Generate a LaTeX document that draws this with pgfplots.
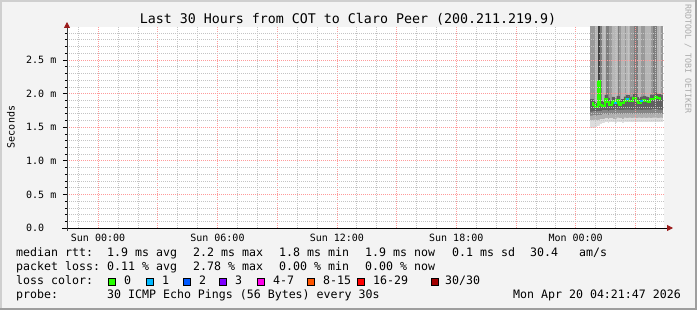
\documentclass[border=0pt]{standalone}
\usepackage{pgfplots}
\pgfplotsset{compat=1.18}
\usepackage{pgfplotstable}
\usepackage{fontspec}
\setmainfont{DejaVu Sans Mono}
\setmonofont{DejaVu Sans Mono}
\usetikzlibrary{arrows.meta}
\definecolor{bgc}{HTML}{F3F3F3}
\definecolor{shadeA}{HTML}{CFCFCF}
\definecolor{shadeB}{HTML}{9E9E9E}
\definecolor{mgrid}{HTML}{FF9A9A}
\definecolor{ggrid}{HTML}{C4C4C4}
\definecolor{arrowc}{HTML}{9A1A1A}
\definecolor{wm}{HTML}{ABABAB}
\definecolor{sA}{HTML}{404040}
\definecolor{sB}{HTML}{7E7E7E}
\definecolor{sC}{HTML}{999999}
\definecolor{sD}{HTML}{B6B6B6}
\definecolor{sL4}{HTML}{606060}
\definecolor{sL3}{HTML}{858585}
\definecolor{sL2}{HTML}{B0B0B0}
\definecolor{sL1}{HTML}{DCDCDC}
\definecolor{c0}{HTML}{26FF00}
\definecolor{c1}{HTML}{00B8FF}
\definecolor{c2}{HTML}{0059FF}
\definecolor{c3}{HTML}{7E00FF}
\definecolor{c4}{HTML}{FF00EA}
\definecolor{c8}{HTML}{FF5500}
\definecolor{c16}{HTML}{FF0000}
\definecolor{c30}{HTML}{A10000}

\pgfplotstableread{
x     b    l1   l2   l3   m     l4    gA  gB  gC  gD
24.80 1.49 1.60 1.67 1.73 1.855 1.915 nan nan 3.2 nan
24.92 1.48 1.61 1.68 1.74 1.830 1.890 nan nan 3.2 nan
25.04 1.50 1.60 1.67 1.73 1.796 1.856 nan nan nan 3.2
25.16 1.52 1.61 1.68 1.74 2.188 1.900 3.2 nan nan nan
25.28 1.55 1.62 1.68 1.74 1.830 1.890 nan 3.2 nan nan
25.40 1.56 1.62 1.69 1.75 1.815 1.875 nan nan nan 3.2
25.52 1.57 1.63 1.69 1.75 1.920 1.980 nan 3.2 nan nan
25.64 1.56 1.62 1.68 1.74 1.880 1.940 nan 3.2 nan nan
25.76 1.58 1.63 1.70 1.75 1.830 1.890 nan nan 3.2 nan
25.88 1.57 1.62 1.69 1.75 1.890 1.950 nan nan nan 3.2
26.00 1.56 1.62 1.69 1.76 1.865 1.925 nan nan nan 3.2
26.12 1.58 1.64 1.70 1.76 1.905 1.965 nan 3.2 nan nan
26.24 1.57 1.63 1.69 1.75 1.830 1.890 nan nan 3.2 nan
26.36 1.56 1.62 1.69 1.75 1.855 1.915 nan nan nan 3.2
26.48 1.58 1.64 1.70 1.76 1.895 1.955 nan nan 3.2 nan
26.60 1.57 1.63 1.70 1.76 1.920 1.980 nan nan nan 3.2
26.72 1.58 1.64 1.70 1.76 1.890 1.950 nan nan 3.2 nan
26.84 1.57 1.63 1.69 1.75 1.895 1.955 nan nan 3.2 nan
26.96 1.58 1.64 1.70 1.76 1.930 1.990 nan 3.2 nan nan
27.08 1.57 1.63 1.70 1.76 1.885 1.945 nan 3.2 nan nan
27.20 1.58 1.64 1.70 1.76 1.865 1.925 nan nan nan 3.2
27.32 1.57 1.63 1.69 1.75 1.895 1.955 nan nan 3.2 nan
27.44 1.58 1.64 1.70 1.76 1.905 1.965 nan nan 3.2 nan
27.56 1.57 1.63 1.70 1.76 1.895 1.955 nan nan nan 3.2
27.68 1.58 1.64 1.70 1.76 1.880 1.940 nan nan nan 3.2
27.80 1.57 1.63 1.70 1.76 1.925 1.985 nan nan 3.2 nan
27.92 1.58 1.64 1.70 1.77 1.915 1.975 nan 3.2 nan nan
28.04 1.58 1.64 1.71 1.77 1.954 2.014 nan 3.2 nan nan
28.16 1.57 1.63 1.70 1.76 1.930 1.990 nan nan nan 3.2
28.28 1.58 1.64 1.70 1.76 1.920 1.980 nan nan 3.2 nan
}\smoke

\newcommand{\legfont}{\fontsize{11.6}{14}\selectfont}
\newcommand{\tickfont}{\fontsize{10}{12}\selectfont}

\begin{document}
\begin{tikzpicture}[x=1pt,y=1pt]
\fill[bgc] (0,0) rectangle (697,310);
\fill[shadeA] (0,0) rectangle (2,310);
\fill[shadeA] (0,308) rectangle (697,310);
\fill[shadeB] (695,0) rectangle (697,310);
\fill[shadeB] (0,0) rectangle (697,2);

\begin{axis}[
  at={(67pt,82pt)}, anchor=south west,
  scale only axis, width=597pt, height=201pt,
  xmin=-1.56, xmax=28.44, ymin=0, ymax=2.99,
  axis on top,
  axis background/.style={fill=white},
  axis lines=left,
  x axis line style={line width=0.8pt, black, shorten >=-9pt, shorten <=-5pt, -{Triangle[length=6pt,width=6pt,color=arrowc]}},
  y axis line style={line width=0.8pt, black!75, shorten >=-5pt, shorten <=-3pt, -{Triangle[length=6pt,width=6pt,color=arrowc]}},
  xtick={0,3,6,9,12,15,18,21,24,27},
  xticklabels={Sun 00:00,,Sun 06:00,,Sun 12:00,,Sun 18:00,,Mon 00:00,},
  minor xtick={-1,1,2,4,5,7,8,10,11,13,14,16,17,19,20,22,23,25,26,28},
  ytick={0,0.5,1,1.5,2,2.5},
  yticklabels={0.0,0.5 m,1.0 m,1.5 m,2.0 m,2.5 m},
  minor ytick={0.1,0.2,0.3,0.4,0.6,0.7,0.8,0.9,1.1,1.2,1.3,1.4,1.6,1.7,1.8,1.9,2.1,2.2,2.3,2.4,2.6,2.7,2.8,2.9},
  grid=both,
  major grid style={mgrid, dash pattern=on 1pt off 1pt, line width=0.6pt},
  minor grid style={ggrid, dash pattern=on 1pt off 1pt, line width=0.6pt},
  tick align=outside, major tick length=4pt, minor tick length=2pt,
  tick style={black, line width=0.6pt},
  major x tick style={draw=none}, minor x tick style={draw=none},
  xticklabel style={font=\tickfont, inner sep=0pt, yshift=-2pt},
  yticklabel style={font=\tickfont, anchor=west, inner sep=0pt, xshift=-37pt},
]
\addplot[ybar, bar width=0.12, bar shift=0pt, fill=sA, draw=sA, line width=0.1pt] table[x=x,y=gA]{\smoke};
\addplot[ybar, bar width=0.12, bar shift=0pt, fill=sB, draw=sB, line width=0.1pt] table[x=x,y=gB]{\smoke};
\addplot[ybar, bar width=0.12, bar shift=0pt, fill=sC, draw=sC, line width=0.1pt] table[x=x,y=gC]{\smoke};
\addplot[ybar, bar width=0.12, bar shift=0pt, fill=sD, draw=sD, line width=0.1pt] table[x=x,y=gD]{\smoke};
\addplot[ybar, bar width=0.12, bar shift=0pt, fill=sL4, draw=sL4, line width=0.1pt] table[x=x,y=l4]{\smoke};
\addplot[ybar, bar width=0.12, bar shift=0pt, fill=sL3, draw=sL3, line width=0.1pt] table[x=x,y=l3]{\smoke};
\addplot[ybar, bar width=0.12, bar shift=0pt, fill=sL2, draw=sL2, line width=0.1pt] table[x=x,y=l2]{\smoke};
\addplot[ybar, bar width=0.12, bar shift=0pt, fill=sL1, draw=sL1, line width=0.1pt] table[x=x,y=l1]{\smoke};
\addplot[ybar, bar width=0.12, bar shift=0pt, fill=white, draw=white, line width=0.1pt] table[x=x,y=b]{\smoke};
\addplot[const plot mark mid, color=c0, line width=2pt] table[x=x,y=m]{\smoke};
\addplot[only marks, mark=-, mark size=1.3pt, mark options={line width=2pt, color=c1}] coordinates {(26.00,1.865) (26.60,1.920) (27.32,1.895)};
\end{axis}

\node[anchor=base, font=\fontsize{13.3}{15}\selectfont, inner sep=0pt] at (348,286) {Last 30 Hours from COT to Claro Peer (200.211.219.9)};
\node[rotate=90, font=\tickfont, inner sep=0pt] at (11,183) {Seconds};
\node[rotate=-90, font=\fontsize{8.3}{10}\selectfont, color=wm, inner sep=0pt] at (688,251) {RRDTOOL / TOBI OETIKER};

\begin{scope}[every node/.style={anchor=base west, inner sep=0pt, font=\legfont}]
\node at (16,53) {median rtt:};
\node at (107,53) {1.9 ms avg};
\node at (193,53) {2.2 ms max};
\node at (279,53) {1.8 ms min};
\node at (365,53) {1.9 ms now};
\node at (452,53) {0.1 ms sd};
\node at (530,53) {30.4};
\node at (579,53) {am/s};
\node at (16,39) {packet loss:};
\node at (107,39) {0.11 \% avg};
\node at (193,39) {2.78 \% max};
\node at (279,39) {0.00 \% min};
\node at (365,39) {0.00 \% now};
\node at (16,25) {loss color:};
\node at (124,25) {0};
\node at (162,25) {1};
\node at (199,25) {2};
\node at (235,25) {3};
\node at (273,25) {4-7};
\node at (323,25) {8-15};
\node at (373,25) {16-29};
\node at (445,25) {30/30};
\node at (16,11) {probe:};
\node at (107,11) {30 ICMP Echo Pings (56 Bytes) every 30s};
\node at (513,11) {Mon Apr 20 04:21:47 2026};
\end{scope}
\begin{scope}[line width=0.8pt]
\filldraw[fill=c0, draw=black] (108.5,24.5) rectangle (115.5,31.5);
\filldraw[fill=c1, draw=black] (146,24.5) rectangle (153,31.5);
\filldraw[fill=c2, draw=black] (183.5,24.5) rectangle (190.5,31.5);
\filldraw[fill=c3, draw=black] (219.5,24.5) rectangle (226.5,31.5);
\filldraw[fill=c4, draw=black] (257,24.5) rectangle (264,31.5);
\filldraw[fill=c8, draw=black] (307.5,24.5) rectangle (314.5,31.5);
\filldraw[fill=c16, draw=black] (357.5,24.5) rectangle (364.5,31.5);
\filldraw[fill=c30, draw=black] (431,24.5) rectangle (438,31.5);
\end{scope}
\pgfresetboundingbox
\path[use as bounding box] (0,0) rectangle (697,310);
\end{tikzpicture}
\end{document}
